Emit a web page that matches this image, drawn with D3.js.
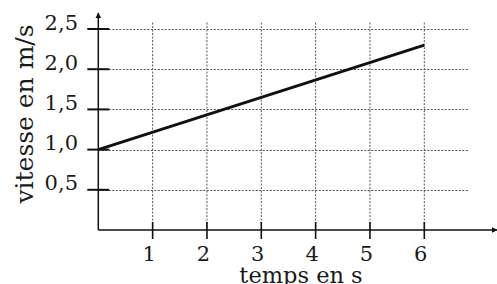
<!DOCTYPE html>
<html>
<head>
<meta charset="utf-8">
<script src="https://cdn.jsdelivr.net/npm/d3@7"></script>
<style>
  body { margin: 0; background: #fff; }
  text { font-family: "DejaVu Serif", serif; fill: #1a1a1a; }
</style>
</head>
<body>
<div id="chart"></div>
<script>
// data
var tempsTicks = [1, 2, 3, 4, 5, 6];
var vitesseTicks = [0.5, 1.0, 1.5, 2.0, 2.5];
var vitesseLabels = ["0,5", "1,0", "1,5", "2,0", "2,5"];
var temps = [0, 6];
var vitesse = [1.0, 2.3];

var width = 497, height = 284;

var x = d3.scaleLinear().domain([0, 6]).range([98.3, 424.3]);
var y = d3.scaleLinear().domain([0, 2.5]).range([230, 29]);

var svg = d3.select('#chart').append('svg')
    .attr('width', width)
    .attr('height', height);

// arrow heads
var defs = svg.append('defs');
defs.append('marker')
    .attr('id', 'arrow')
    .attr('viewBox', '0 0 10 10')
    .attr('refX', 9).attr('refY', 5)
    .attr('markerWidth', 6).attr('markerHeight', 6)
    .attr('markerUnits', 'userSpaceOnUse')
    .attr('orient', 'auto')
    .append('path')
    .attr('d', 'M0,0 L10,5 L0,10 Z')
    .attr('fill', '#111');

// grid
var grid = svg.append('g').attr('class', 'grid')
    .style('stroke', '#555')
    .style('stroke-width', 1)
    .style('stroke-dasharray', '2,1.5');

grid.selectAll('.h').data(vitesseTicks).enter().append('line')
    .attr('x1', x(0)).attr('x2', x(6.8))
    .attr('y1', function(d) { return Math.round(y(d)) + 0.5; })
    .attr('y2', function(d) { return Math.round(y(d)) + 0.5; });

grid.selectAll('.v').data(tempsTicks).enter().append('line')
    .attr('y1', y(2.58)).attr('y2', y(0))
    .attr('x1', function(d) { return x(d); })
    .attr('x2', function(d) { return x(d); });

// axes
svg.append('line')
    .attr('x1', x(0)).attr('x2', x(0))
    .attr('y1', y(0)).attr('y2', 13)
    .style('stroke', '#111').style('stroke-width', 1.5)
    .attr('marker-end', 'url(#arrow)');

svg.append('line')
    .attr('x1', x(0)).attr('x2', 497)
    .attr('y1', y(0)).attr('y2', y(0))
    .style('stroke', '#111').style('stroke-width', 1.5)
    .attr('marker-end', 'url(#arrow)');

// y ticks + labels
svg.selectAll('.ytick').data(vitesseTicks).enter().append('line')
    .attr('x1', x(0) - 11).attr('x2', x(0) + 11)
    .attr('y1', function(d) { return y(d); })
    .attr('y2', function(d) { return y(d); })
    .style('stroke', '#111').style('stroke-width', 2);

svg.selectAll('.ylab').data(vitesseTicks).enter().append('text')
    .attr('x', 78)
    .attr('y', function(d) { return y(d) + 0.5; })
    .attr('text-anchor', 'end')
    .style('font-size', '21px')
    .text(function(d, i) { return vitesseLabels[i]; });

// x ticks + labels
svg.selectAll('.xtick').data(tempsTicks).enter().append('line')
    .attr('y1', y(0) - 8).attr('y2', y(0) + 9)
    .attr('x1', function(d) { return x(d); })
    .attr('x2', function(d) { return x(d); })
    .style('stroke', '#111').style('stroke-width', 1.6);

svg.selectAll('.xlab').data(tempsTicks).enter().append('text')
    .attr('x', function(d) { return x(d) - 3.5; })
    .attr('y', 260.5)
    .attr('text-anchor', 'middle')
    .style('font-size', '21px')
    .text(function(d) { return d; });

// titles
svg.append('text')
    .attr('transform', 'translate(33,114) rotate(-90)')
    .attr('text-anchor', 'middle')
    .style('font-size', '25px')
    .text('vitesse en m/s');

svg.append('text')
    .attr('x', 301).attr('y', 283)
    .attr('text-anchor', 'middle')
    .style('font-size', '22.5px')
    .text('temps en s');

// line
var line = d3.line()
    .x(function(d, i) { return x(temps[i]); })
    .y(function(d) { return y(d); });

svg.append('path')
    .datum(vitesse)
    .attr('d', line)
    .style('fill', 'none')
    .style('stroke', '#111')
    .style('stroke-width', 3);
</script>
</body>
</html>
